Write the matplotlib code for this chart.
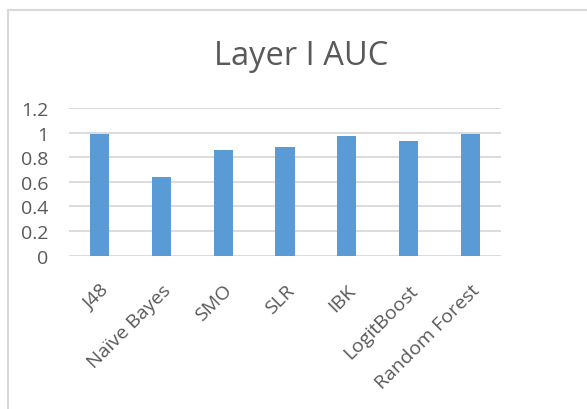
import matplotlib
matplotlib.use("Agg")
import matplotlib.pyplot as plt
from matplotlib.patches import Rectangle

classifiers = ["J48", "Naïve Bayes", "SMO", "SLR", "IBK", "LogitBoost", "Random Forest"]
auc = [0.99, 0.64, 0.86, 0.88, 0.97, 0.93, 0.99]
yticks = [0, 0.2, 0.4, 0.6, 0.8, 1.0, 1.2]
ytick_labels = ["0", "0.2", "0.4", "0.6", "0.8", "1", "1.2"]

plt.rcParams["font.family"] = ["Open Sans", "DejaVu Sans"]
text_color = "#595959"

fig = plt.figure(figsize=(5.87, 4.10), dpi=100)
ax = fig.add_axes([69 / 587, 1 - 256.7 / 410, 432 / 587, (256.7 - 109) / 410])

x = list(range(len(classifiers)))
ax.bar(x, auc, width=0.31, color="#5b9bd5", zorder=3)

ax.set_xlim(-0.5, len(classifiers) - 0.5)
ax.set_ylim(0, 1.2)
ax.set_yticks(yticks)
ax.set_yticklabels(ytick_labels, fontsize=14, color=text_color)
ax.set_xticks(x)
ax.set_xticklabels(classifiers, fontsize=14, color=text_color,
                   rotation=45, ha="right", va="top", rotation_mode="anchor")
ax.tick_params(axis="both", length=0)
ax.tick_params(axis="y", pad=15)
ax.tick_params(axis="x", pad=18)
ax.grid(axis="y", color="#d9d9d9", linewidth=1.3, zorder=0)
for s in ax.spines.values():
    s.set_visible(False)

fig.text(301 / 587, 1 - 65 / 410, "Layer I AUC", fontsize=23.5, color=text_color,
         ha="center", va="baseline")

# chart frame
fig.patches.append(Rectangle((7.5 / 587, -0.1), 1.2, 1 - 10.5 / 410 + 0.1,
                             transform=fig.transFigure, fill=False,
                             edgecolor="#d9d9d9", linewidth=1.5))

fig.savefig("out.png", dpi=100)
